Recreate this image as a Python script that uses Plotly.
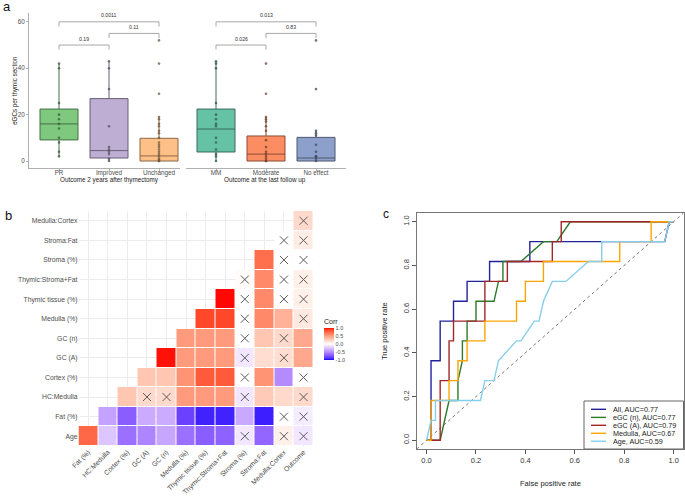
import plotly.graph_objects as go

W, H = 685, 498
FONT = "Arial, Liberation Sans, sans-serif"


def fx(x):
    return x / W


def fy(y):
    return 1 - y / H


# ------------------------------------------------------------------ data: panel a
groups_a1 = ["PR", "Improved", "Unchanged"]
groups_a2 = ["MM", "Moderate", "No effect"]
title_a1 = "Outcome 2 years after thymectomy"
title_a2 = "Outcome at the last follow up"
ytitle_a = "eGCs per thymic section"

q1_a1 = [9.1, 1.3, 0.0]
med_a1 = [16.0, 4.5, 2.2]
q3_a1 = [22.4, 26.9, 9.8]
lo_a1 = [2.0, 0.0, 0.0]
hi_a1 = [42.0, 43.0, 19.0]

q1_a2 = [3.9, 0.0, 0.0]
med_a2 = [13.8, 3.0, 1.3]
q3_a2 = [22.4, 10.8, 10.2]
lo_a2 = [0.0, 0.0, 0.0]
hi_a2 = [43.0, 19.0, 13.0]

pts_pr = [42, 40, 25, 20, 18, 16, 14, 10, 8, 4, 2]
pts_improved = [43, 40, 31, 15, 6, 5, 4, 3, 1, 0]
pts_unchanged = [52, 42, 29, 19, 18, 16, 15, 13, 12, 10, 8, 7, 6, 5, 4, 3, 2, 1, 0.5, 0, 0]
pts_mm = [43, 42, 40, 25, 20, 18, 16, 15, 10, 8, 5, 3, 2, 0]
pts_moderate = [42, 29, 19, 18, 17, 15, 13, 9, 6, 4, 3, 2, 1, 0, 0]
pts_noeffect = [52, 31, 13, 12, 11, 7, 4, 2, 2, 1, 0]

pvals_a1 = [("PR", "Improved", "0.19"), ("Improved", "Unchanged", "0.11"), ("PR", "Unchanged", "0.0011")]
pvals_a2 = [("MM", "Moderate", "0.026"), ("Moderate", "No effect", "0.83"), ("MM", "No effect", "0.013")]

fills_a1 = ["#7fc97f", "#beaed4", "#fdc086"]
fills_a2 = ["#66c2a5", "#fc8d62", "#8da0cb"]

# ------------------------------------------------------------------ data: panel b
row_vars = ["Age", "Fat (%)", "HC:Medulla", "Cortex (%)", "GC (A)", "GC (n)", "Medulla (%)",
            "Thymic tissue (%)", "Thymic:Stroma+Fat", "Stroma (%)", "Stroma:Fat", "Medulla:Cortex"]
col_vars = ["Fat (%)", "HC:Medulla", "Cortex (%)", "GC (A)", "GC (n)", "Medulla (%)",
            "Thymic tissue (%)", "Thymic:Stroma+Fat", "Stroma (%)", "Stroma:Fat", "Medulla:Cortex", "Outcome"]

corr_age = [0.75, -0.24, -0.62, -0.53, -0.38, -0.62, -0.70, -0.68, -0.10, -0.66, 0.08, -0.10]
corr_fat = [-0.40, -0.70, -0.36, -0.36, -0.82, -0.93, -0.93, -0.37, -0.94, 0.0, -0.08]
corr_hcmed = [0.30, 0.20, 0.20, 0.52, 0.52, 0.52, -0.10, 0.28, 0.20, 0.20]
corr_cortex = [0.30, 0.30, 0.55, 0.80, 0.80, 0.0, 0.55, -0.50, 0.0]
corr_gca = [0.98, 0.52, 0.52, 0.52, -0.10, 0.18, 0.18, 0.45]
corr_gcn = [0.52, 0.52, 0.52, 0.0, 0.30, 0.20, 0.45]
corr_medulla = [0.87, 0.87, 0.0, 0.60, 0.40, 0.12]
corr_thymic = [0.99, 0.0, 0.60, 0.0, 0.08]
corr_tsf = [0.02, 0.60, 0.0, 0.08]
corr_stroma = [0.72, 0.0, 0.0]
corr_strfat = [0.0, 0.10]
corr_medcor = [0.20]
corr_rows = [corr_age, corr_fat, corr_hcmed, corr_cortex, corr_gca, corr_gcn, corr_medulla,
             corr_thymic, corr_tsf, corr_stroma, corr_strfat, corr_medcor]

nonsig = {
    "Age": ["Stroma (%)", "Medulla:Cortex", "Outcome"],
    "Fat (%)": ["Medulla:Cortex", "Outcome"],
    "HC:Medulla": ["GC (A)", "GC (n)", "Stroma (%)", "Outcome"],
    "Cortex (%)": ["Stroma (%)", "Outcome"],
    "GC (A)": ["Stroma (%)", "Medulla:Cortex"],
    "GC (n)": ["Stroma (%)", "Medulla:Cortex"],
    "Medulla (%)": ["Stroma (%)", "Outcome"],
    "Thymic tissue (%)": ["Stroma (%)", "Medulla:Cortex", "Outcome"],
    "Thymic:Stroma+Fat": ["Stroma (%)", "Medulla:Cortex", "Outcome"],
    "Stroma (%)": ["Medulla:Cortex", "Outcome"],
    "Stroma:Fat": ["Medulla:Cortex", "Outcome"],
    "Medulla:Cortex": ["Outcome"],
}

# ------------------------------------------------------------------ data: panel c
roc_names = ["All, AUC=0.77", "eGC (n), AUC=0.77", "eGC (A), AUC=0.79", "Medulla, AUC=0.67", "Age, AUC=0.59"]
roc_colors = ["#22229a", "#2a7a2a", "#a32626", "#ffa500", "#87ceeb"]

fpr_all = [0, 0.018, 0.018, 0.055, 0.055, 0.109, 0.109, 0.164, 0.164, 0.255, 0.255, 0.418, 0.418,
           0.964, 0.982, 1.0]
tpr_all = [0, 0, 0.364, 0.364, 0.545, 0.545, 0.636, 0.636, 0.727, 0.727, 0.818, 0.818, 0.909,
           0.909, 1.0, 1.0]

fpr_gcn = [0, 0.055, 0.091, 0.127, 0.127, 0.145, 0.145, 0.164, 0.164, 0.2, 0.2, 0.273, 0.291, 0.309,
           0.309, 0.382, 0.473, 0.527, 0.582, 1.0]
tpr_gcn = [0, 0, 0.182, 0.182, 0.273, 0.364, 0.455, 0.455, 0.545, 0.545, 0.636, 0.636, 0.727, 0.727,
           0.818, 0.818, 0.909, 0.909, 1.0, 1.0]

fpr_gca = [0, 0.055, 0.055, 0.091, 0.091, 0.109, 0.109, 0.236, 0.236, 0.327, 0.327, 0.509, 0.509,
           0.545, 0.545, 1.0]
tpr_gca = [0, 0, 0.273, 0.273, 0.455, 0.455, 0.545, 0.545, 0.727, 0.727, 0.818, 0.818, 0.909,
           0.909, 1.0, 1.0]

fpr_med = [0, 0.018, 0.018, 0.091, 0.091, 0.127, 0.127, 0.164, 0.164, 0.236, 0.236, 0.364, 0.364,
           0.4, 0.4, 0.473, 0.473, 0.782, 0.782, 0.909, 0.909, 1.0]
tpr_med = [0, 0, 0.182, 0.182, 0.273, 0.273, 0.364, 0.364, 0.455, 0.455, 0.545, 0.545, 0.636,
           0.636, 0.727, 0.727, 0.818, 0.818, 0.909, 0.909, 1.0, 1.0]

fpr_age = [0, 0.018, 0.036, 0.036, 0.218, 0.236, 0.273, 0.291, 0.364, 0.382, 0.436, 0.455, 0.473,
           0.509, 0.564, 0.655, 0.709, 0.709, 0.964, 0.982, 1.0]
tpr_age = [0, 0.091, 0.091, 0.182, 0.182, 0.273, 0.273, 0.364, 0.455, 0.455, 0.545, 0.545, 0.636,
           0.727, 0.727, 0.818, 0.818, 0.909, 0.909, 1.0, 1.0]

roc_fpr = [fpr_all, fpr_gcn, fpr_gca, fpr_med, fpr_age]
roc_tpr = [tpr_all, tpr_gcn, tpr_gca, tpr_med, tpr_age]


# ------------------------------------------------------------------ helpers
def darken(hexc, f):
    h = hexc.lstrip("#")
    r, g, b = (int(h[i:i + 2], 16) for i in (0, 2, 4))
    return "rgb(%d,%d,%d)" % (int(r * f), int(g * f), int(b * f))


def lab_to_rgb(L, a, b):
    fyv = (L + 16) / 116
    fxv = fyv + a / 500
    fzv = fyv - b / 200

    def finv(t):
        return t ** 3 if t ** 3 > 0.008856 else (t - 16 / 116) / 7.787

    X = 0.95047 * finv(fxv)
    Y = finv(fyv)
    Z = 1.08883 * finv(fzv)
    r = 3.2406 * X - 1.5372 * Y - 0.4986 * Z
    g = -0.9689 * X + 1.8758 * Y + 0.0415 * Z
    bb = 0.0557 * X - 0.2040 * Y + 1.0570 * Z

    def gam(c):
        c = 12.92 * c if c <= 0.0031308 else 1.055 * c ** (1 / 2.4) - 0.055
        return int(round(max(0, min(1, c)) * 255))

    return "rgb(%d,%d,%d)" % (gam(r), gam(g), gam(bb))


BLUE_LAB = (32.30, 79.19, -107.86)
RED_LAB = (53.24, 80.09, 67.20)
colorscale = []
NS = 40
for k in range(NS + 1):
    v = -1 + 2 * k / NS
    t = abs(v)
    end = BLUE_LAB if v < 0 else RED_LAB
    lab = (100 + t * (end[0] - 100), t * end[1], t * end[2])
    colorscale.append([k / NS, lab_to_rgb(*lab)])

fig = go.Figure()
annotations = []
shapes = []


def ann(x, y, text, size, color="#222", xanchor="center", yanchor="middle", angle=0,
        xref="paper", yref="paper"):
    annotations.append(dict(x=x, y=y, xref=xref, yref=yref, text=text, showarrow=False,
                            font=dict(size=size, color=color, family=FONT),
                            xanchor=xanchor, yanchor=yanchor, textangle=angle))


# ------------------------------------------------------------------ panel a
panels_a = [
    (groups_a1, q1_a1, med_a1, q3_a1, lo_a1, hi_a1, [pts_pr, pts_improved, pts_unchanged], fills_a1,
     pvals_a1, "x", "y"),
    (groups_a2, q1_a2, med_a2, q3_a2, lo_a2, hi_a2, [pts_mm, pts_moderate, pts_noeffect], fills_a2,
     pvals_a2, "x2", "y2"),
]
for groups, q1, med, q3, lo, hi, pts, fills, pv, xa, ya in panels_a:
    for i, g in enumerate(groups):
        fig.add_trace(go.Box(x=[i], q1=[q1[i]], median=[med[i]], q3=[q3[i]],
                             lowerfence=[lo[i]], upperfence=[hi[i]], width=0.76,
                             fillcolor=fills[i], line=dict(color=darken(fills[i], 0.55), width=1),
                             whiskerwidth=0, boxpoints=False, xaxis=xa, yaxis=ya,
                             hoverinfo="skip"))
        fig.add_trace(go.Scatter(x=[i] * len(pts[i]), y=pts[i], mode="markers",
                                 marker=dict(size=2.6, color=darken(fills[i], 0.45), opacity=0.75),
                                 xaxis=xa, yaxis=ya, hoverinfo="skip"))
    for k, (g0, g1, lab) in enumerate(pv):
        i0, i1 = groups.index(g0), groups.index(g1)
        yl = 50 + 5 * k
        fig.add_trace(go.Scatter(x=[i0, i0, i1, i1], y=[yl - 2, yl, yl, yl - 2], mode="lines",
                                 line=dict(color="#a8a8a8", width=1), xaxis=xa, yaxis=ya,
                                 hoverinfo="skip"))
        ann((i0 + i1) / 2, yl + 0.6, lab, 5.2, "#333", yanchor="bottom",
            xref=xa, yref=ya)

ann(fx(109), fy(180), title_a1, 6.3, "#222")
ann(fx(265), fy(180), title_a2, 6.3, "#222")
ann(fx(15), fy(91), ytitle_a, 6.3, "#222", angle=-90)
ann(fx(1), fy(7), "a", 13, "#111", xanchor="left")

# ------------------------------------------------------------------ panel b
Z = []
for r in range(len(row_vars)):
    row = []
    for c in range(len(col_vars)):
        row.append(corr_rows[r][c - r] if c >= r else None)
    Z.append(row)

fig.add_trace(go.Heatmap(
    z=Z, x=list(range(len(col_vars))), y=list(range(len(row_vars))),
    colorscale=colorscale, zmin=-1, zmax=1, xgap=1, ygap=1, xaxis="x3", yaxis="y3",
    hoverinfo="skip",
    colorbar=dict(x=fx(324), xanchor="left", xpad=0, y=fy(338), yanchor="middle",
                  len=44, lenmode="pixels", thickness=10, thicknessmode="pixels",
                  ypad=0, outlinewidth=0, ticks="",
                  tickvals=[-1, -0.5, 0, 0.5, 1], ticktext=["-1.0", "-0.5", "0.0", "0.5", "1.0"],
                  tickfont=dict(size=5.5, color="#4d4d4d", family=FONT),
                  title=dict(text="Corr", side="top", font=dict(size=7, color="#222", family=FONT)))))

xs, ys = [], []
for r, rv in enumerate(row_vars):
    for cv in nonsig[rv]:
        xs.append(col_vars.index(cv))
        ys.append(r)
fig.add_trace(go.Scatter(x=xs, y=ys, mode="markers", xaxis="x3", yaxis="y3", hoverinfo="skip",
                         marker=dict(symbol="x-thin", size=8, color="#5a5a5a",
                                     line=dict(width=1, color="#5a5a5a"))))
ann(fx(3), fy(215), "b", 13, "#111", xanchor="left")

# ------------------------------------------------------------------ panel c
shapes.append(dict(type="line", xref="x4 domain", yref="y4 domain", x0=0, y0=0, x1=1, y1=1,
                   line=dict(color="#777", width=1, dash="dot"), layer="below"))
for name, col, fp, tp in zip(roc_names, roc_colors, roc_fpr, roc_tpr):
    fig.add_trace(go.Scatter(x=fp, y=tp, mode="lines", line=dict(color=col, width=1.4),
                             xaxis="x4", yaxis="y4", name=name, hoverinfo="skip"))

# legend box
shapes.append(dict(type="rect", xref="paper", yref="paper", x0=fx(584), x1=fx(683.5),
                   y0=fy(449), y1=fy(401), line=dict(color="#666", width=1), fillcolor="white",
                   layer="above"))
leg_rows = [409.3, 417.4, 425.3, 433.3, 441.2]
for name, col, yy in zip(roc_names, roc_colors, leg_rows):
    shapes.append(dict(type="line", xref="paper", yref="paper", x0=fx(591), x1=fx(606),
                       y0=fy(yy), y1=fy(yy), line=dict(color=col, width=1.4), layer="above"))
    ann(fx(611), fy(yy), name, 7.2, "#222", xanchor="left")

ann(fx(550), fy(483), "False positive rate", 7.5, "#222")
ann(fx(384), fy(331), "True positive rate", 7.5, "#222", angle=-90)
ann(fx(381), fy(214), "c", 12, "#111", xanchor="left")

# ------------------------------------------------------------------ layout
axis_gray = "#b0b0b0"
fig.update_layout(
    width=W, height=H, autosize=False, template="none",
    margin=dict(l=0, r=0, t=0, b=0),
    paper_bgcolor="white", plot_bgcolor="white", showlegend=False,
    font=dict(family=FONT),
    annotations=annotations, shapes=shapes,
    xaxis=dict(domain=[fx(29), fx(180)], anchor="y", range=[-0.6, 2.42],
               tickvals=[0, 1, 2], ticktext=groups_a1, showline=True, linecolor=axis_gray,
               linewidth=1, ticks="outside", ticklen=2, tickcolor=axis_gray, showgrid=False,
               zeroline=False, tickfont=dict(size=6.3, color="#4d4d4d"), automargin=False,
               ticklabelstandoff=-4),
    yaxis=dict(domain=[fy(168), fy(13)], anchor="x", range=[-3.0, 63.8],
               tickvals=[0, 20, 40, 60], showline=True, linecolor=axis_gray, linewidth=1,
               ticks="outside", ticklen=2, tickcolor=axis_gray, showgrid=False, zeroline=False,
               tickfont=dict(size=6.3, color="#4d4d4d"), automargin=False),
    xaxis2=dict(domain=[fx(186), fx(346)], anchor="y2", range=[-0.6, 2.6],
                tickvals=[0, 1, 2], ticktext=groups_a2, showline=True, linecolor=axis_gray,
                linewidth=1, ticks="outside", ticklen=2, tickcolor=axis_gray, showgrid=False,
                zeroline=False, tickfont=dict(size=6.3, color="#4d4d4d"), automargin=False,
                ticklabelstandoff=-4),
    yaxis2=dict(domain=[fy(168), fy(13)], anchor="x2", range=[-3.0, 63.8], visible=False,
                showgrid=False, zeroline=False, automargin=False),
    xaxis3=dict(domain=[fx(78.5), fx(313.3)], anchor="y3", range=[-0.5, 11.5],
                tickvals=list(range(len(col_vars))), ticktext=col_vars, tickangle=-45,
                showgrid=True, gridcolor="#ececec", gridwidth=1, zeroline=False, showline=False,
                ticks="", tickfont=dict(size=6.8, color="#4d4d4d"), automargin=False),
    yaxis3=dict(domain=[fy(446), fy(211)], anchor="x3", range=[-0.5, 11.5],
                tickvals=list(range(len(row_vars))), ticktext=row_vars,
                showgrid=True, gridcolor="#ececec", gridwidth=1, zeroline=False, showline=False,
                ticks="", tickfont=dict(size=6.8, color="#4d4d4d"), automargin=False),
    xaxis4=dict(domain=[fx(416.7), fx(683.5)], anchor="y4", range=[-0.04, 1.04],
                tickvals=[0, 0.2, 0.4, 0.6, 0.8, 1.0], tickformat=".1f", ticks="outside",
                ticklen=4, tickcolor="#555", showline=True, mirror=True, linecolor="#777",
                linewidth=1, showgrid=False, zeroline=False,
                tickfont=dict(size=7.5, color="#333"), automargin=False),
    yaxis4=dict(domain=[fy(449), fy(213)], anchor="x4", range=[-0.04, 1.04],
                tickvals=[0, 0.2, 0.4, 0.6, 0.8, 1.0], tickformat=".1f", ticks="outside",
                ticklen=4, tickcolor="#555", showline=True, mirror=True, linecolor="#777",
                linewidth=1, showgrid=False, zeroline=False, tickangle=-90,
                tickfont=dict(size=7.5, color="#333"), automargin=False),
)

fig.write_html("out.html", config={"displayModeBar": False},
               post_script="document.body.style.margin='0px';")
